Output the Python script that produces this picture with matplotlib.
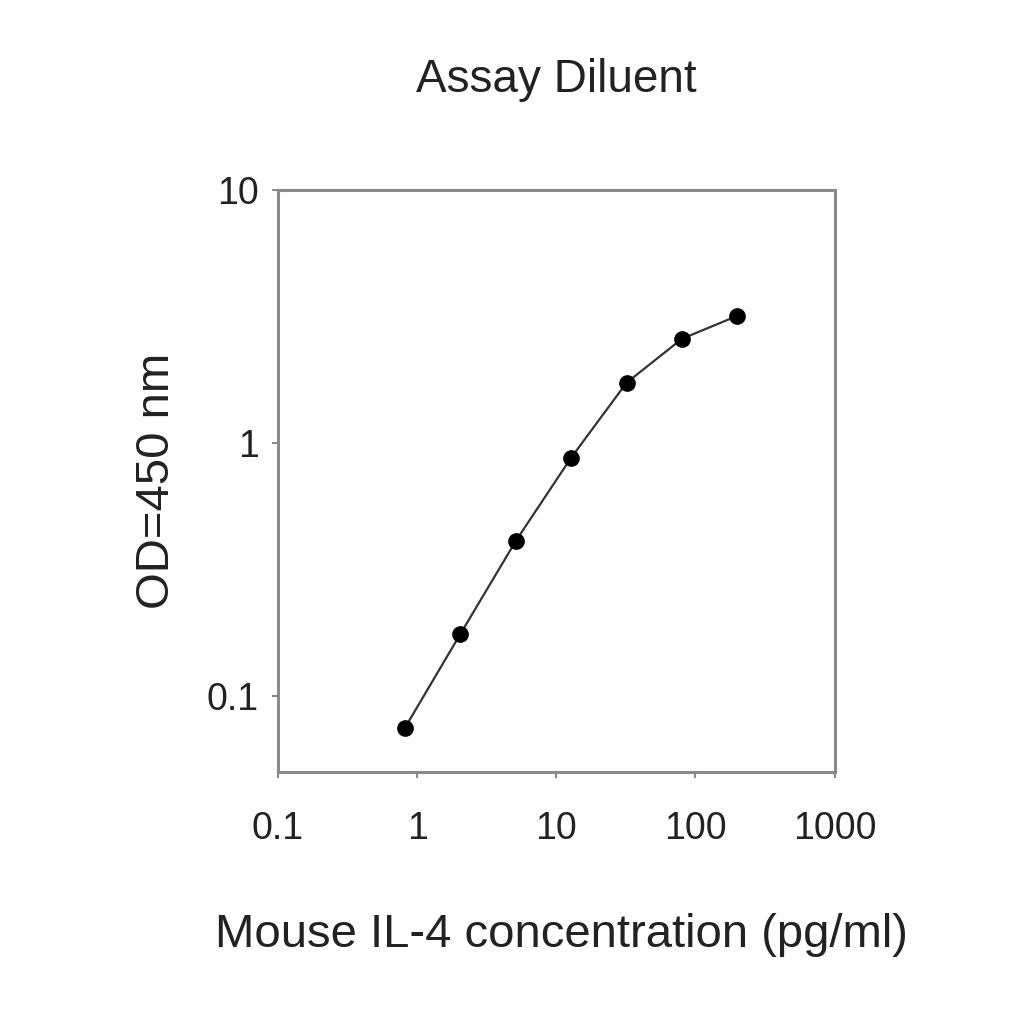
import matplotlib
matplotlib.use("Agg")
import matplotlib.pyplot as plt
from matplotlib.ticker import FixedLocator, NullLocator

concentration = [0.8192, 2.048, 5.12, 12.8, 32, 80, 200]
od450 = [0.075, 0.176, 0.41, 0.875, 1.73, 2.58, 3.18]
x_ticks = [0.1, 1, 10, 100, 1000]
x_tick_labels = ["0.1", "1", "10", "100", "1000"]
y_ticks = [0.1, 1, 10]
y_tick_labels = ["0.1", "1", "10"]

plt.rcParams['font.family'] = ['Liberation Sans', 'DejaVu Sans']

fig = plt.figure(figsize=(10.24, 10.24), dpi=100)
ax = fig.add_axes([0.2715, 0.246, 0.5435, 0.5685])
ax.set_xscale('log')
ax.set_yscale('log')
ax.plot(concentration, od450, color='#333333', lw=1.6, marker='o', ms=11,
        markerfacecolor='black', markeredgecolor='black')
ax.set_xlim(0.1, 1000)
ax.set_ylim(0.05, 10)
ax.xaxis.set_major_locator(FixedLocator(x_ticks))
ax.yaxis.set_major_locator(FixedLocator(y_ticks))
ax.xaxis.set_minor_locator(NullLocator())
ax.yaxis.set_minor_locator(NullLocator())
ax.set_xticklabels(x_tick_labels)
ax.set_yticklabels(y_tick_labels)
for s in ax.spines.values():
    s.set_color('#8a8a8a')
    s.set_linewidth(2.2)
ax.tick_params(axis='both', direction='out', length=4, width=1.5, color='#8a8a8a',
               labelsize=27, labelcolor='#222222')
ax.tick_params(axis='x', pad=24)
ax.tick_params(axis='y', pad=10)

fig.text(0.543, 0.922, "Assay Diluent", ha='center', va='center', fontsize=33, color='#222222')
fig.text(0.548, 0.087, "Mouse IL-4 concentration (pg/ml)", ha='center', va='center',
         fontsize=34, color='#222222')
fig.text(0.153, 0.53, "OD=450 nm", ha='center', va='center', rotation=90,
         fontsize=34, color='#222222')

fig.savefig("out.png", dpi=100, facecolor='white')
